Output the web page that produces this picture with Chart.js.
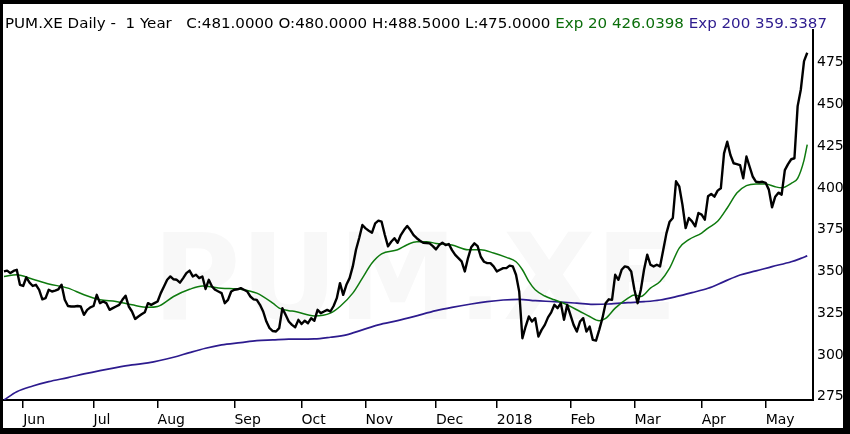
<!DOCTYPE html>
<html>
<head>
<meta charset="utf-8">
<script src="https://cdn.jsdelivr.net/npm/chart.js@4.4.1/dist/chart.umd.min.js"></script>
<style>
  html, body { margin: 0; padding: 0; background: #000; overflow: hidden; }
  #moldura { position: absolute; left: 3px; top: 4px; width: 840px; height: 424px; background: #fff; }
</style>
</head>
<body>
<div id="moldura"><canvas id="grafico"></canvas></div>
<script>
// Fechamentos diarios (indice = pregao)
var fechamentos = [
  350, 350.5, 349, 350.3, 351, 342, 341.3, 346.5, 343.3, 341.3,
  342, 339, 333.3, 334, 339, 338, 338.5, 339.3, 342, 333,
  329.3, 329, 329, 329.3, 329, 324, 327, 328.5, 329.3, 336,
  331, 332, 331, 327, 328, 329, 330, 333, 335.5, 329,
  326, 321.5, 323, 324.3, 325.5, 331, 330, 331, 332, 337,
  341, 345, 347, 345.3, 345, 343.3, 346, 349, 350.5, 347,
  348, 346, 347, 339.5, 345, 341, 339, 338, 337, 331,
  333, 338, 339, 339.3, 340, 339, 338, 335, 333.3, 333,
  330, 326, 320, 316, 314.3, 314, 316, 328, 324, 320,
  318, 316.6, 321, 318.5, 320.5, 319, 322, 320.5, 327, 325,
  326, 327, 326, 329.3, 334, 343, 336, 342, 346, 353,
  363, 370, 377.8, 375.8, 374.4, 373.2, 378.8, 380.4, 379.8, 372,
  365, 367.8, 369.9, 367.2, 371.8, 374.8, 377.2, 374.8, 371.8, 369.9,
  368.4, 367.2, 367, 366.8, 365.2, 363.2, 365.8, 367.2, 365.8, 366.4,
  362.8, 359.9, 358, 356, 350, 358, 364.5, 366.8, 365.2, 358.8,
  355.8, 355, 355, 353, 350, 351, 352, 352, 353.5, 353,
  348, 338, 310, 317, 323, 320, 322, 311, 315, 318,
  322.5, 325.5, 330, 328, 331, 321, 330, 324, 318, 314,
  320, 322, 314, 317, 309, 308.6, 315, 322, 331, 333.3,
  333, 348, 345, 351, 353, 352.5, 350, 339, 331, 339,
  351, 360, 354, 353, 354, 353, 362.8, 372.8, 379.8, 382,
  404, 401, 390, 376, 382, 380, 377, 385, 384, 381,
  395, 396.4, 394.8, 398.4, 399.8, 420.7, 427.7, 419.7, 414.8, 414.3,
  413.7, 405.8, 418.8, 412.7, 406.7, 403.7, 403.4, 403.7, 403.1, 399,
  388.4, 394.8, 397.2, 396, 410.7, 414.3, 417.2, 417.8, 449, 459,
  476, 481
]

// Media exponencial 20
var exp20Dias = [0, 4, 9, 14, 20, 25, 30, 35, 40, 45, 48, 53, 58, 62, 68, 74, 79, 84, 86, 89,
  91, 97, 102, 105, 109, 112, 115, 118, 123, 126, 129, 132, 135, 140, 145, 149, 153, 157, 160, 162,
  164, 166, 169, 172, 176, 180, 183, 186, 188, 191, 195, 197, 199, 202, 205, 208, 211, 214, 218, 220,
  223, 226, 229, 232, 235, 238, 241, 243, 246, 248, 250, 251]
var exp20Valores = [347, 348, 345.3, 342.5, 340, 336, 333, 332, 330, 328.5, 329, 335, 339.3, 341.3, 340, 339.3, 337, 331, 328, 326.5,
  326, 323.3, 325, 329, 337, 346, 355, 360.5, 363, 366, 367.8, 367.8, 366.8, 365.8, 363, 363, 361, 358.4, 355.8, 351,
  344, 339, 335.3, 333, 330, 326, 323, 320.5, 321.9, 328, 334, 335.9, 335, 340, 344, 352, 364, 369, 373, 376,
  380, 388, 397, 401.4, 402.4, 402.4, 400.7, 400.1, 402.8, 405.8, 416.7, 426]

// Media exponencial 200
var exp200Dias = [0, 4, 9, 14, 20, 25, 30, 35, 40, 45, 53, 58, 63, 68, 74, 79, 84, 89, 97, 102,
  107, 112, 117, 123, 128, 135, 140, 146, 151, 156, 161, 166, 172, 179, 184, 189, 195, 200, 205, 210,
  215, 220, 225, 230, 235, 240, 246, 249, 251]
var exp200Valores = [273, 278, 281.4, 284, 286.4, 288.6, 290.6, 292.4, 294, 295.2, 298.6, 301.4, 304, 306, 307.4, 308.6, 309, 309.4, 309.6, 310.6,
  312, 315, 318, 320.5, 322.9, 326.5, 328.5, 330.5, 331.9, 332.9, 333.3, 332.5, 331.9, 331, 330.3, 330.5, 331.3, 331.9, 332.9, 334.9,
  337.3, 339.9, 343.9, 347.9, 350.3, 352.9, 355.8, 357.8, 359.3]

// Rotulos do eixo X (primeiro pregao de cada mes)
var mesesDias = [6, 28, 48, 72, 93, 113, 135, 154, 177, 197, 218, 238]
var mesesRotulos = ['Jun', 'Jul', 'Aug', 'Sep', 'Oct', 'Nov', 'Dec', '2018', 'Feb', 'Mar', 'Apr', 'May']

var cabecalho = [
  { texto: 'PUM.XE Daily -  1 Year   C:481.0000 O:480.0000 H:488.5000 L:475.0000 ', cor: '#000000' },
  { texto: 'Exp 20 426.0398 ', cor: '#0b6e0b' },
  { texto: 'Exp 200 359.3387', cor: '#2d1b8e' }
]

var fonte = 'DejaVu Sans'

function pares(dias, valores) {
  return dias.map(function (d, i) { return { x: d, y: valores[i] } })
}

//Desenha o cabecalho e a marca d'agua
const pluginTextos = {
  id: 'textos',
  beforeDatasetsDraw(chart) {
    const ctx = chart.ctx
    ctx.save()
    ctx.font = 'bold 120px ' + fonte
    ctx.fillStyle = '#f8f8f8'
    ctx.textAlign = 'center'
    ctx.textBaseline = 'middle'
    ctx.fillText('PUM.XE', 412, 284, 560)
    ctx.restore()
  },
  afterDraw(chart) {
    const ctx = chart.ctx
    ctx.save()
    ctx.font = '14px ' + fonte
    ctx.textBaseline = 'alphabetic'
    let total = 0
    cabecalho.forEach(function (p) { total += ctx.measureText(p.texto).width })
    const escala = 822 / total
    ctx.translate(2, 24)
    ctx.scale(escala, 1)
    let x = 0
    cabecalho.forEach(function (p) {
      ctx.fillStyle = p.cor
      ctx.fillText(p.texto, x, 0)
      x += ctx.measureText(p.texto).width
    })
    ctx.restore()
  }
}

const ctx = document.getElementById('grafico')

let grafico = new Chart(ctx, {
  type: 'line',
  data: {
    datasets: [{
      label: 'Close',
      data: fechamentos.map(function (v, i) { return { x: i, y: v } }),
      borderColor: '#000000',
      borderWidth: 2.4,
      tension: 0,
      borderJoinStyle: 'round'
    }, {
      label: 'Exp 20',
      data: pares(exp20Dias, exp20Valores),
      borderColor: '#0e7a0e',
      borderWidth: 1.5,
      cubicInterpolationMode: 'monotone'
    }, {
      label: 'Exp 200',
      data: pares(exp200Dias, exp200Valores),
      borderColor: '#2d1b8e',
      borderWidth: 1.7,
      cubicInterpolationMode: 'monotone'
    }]
  },
  options: {
    responsive: true,
    maintainAspectRatio: false,
    animation: false,
    layout: { padding: { top: 26, left: 0, right: 0, bottom: 0 } },
    plugins: { legend: { display: false }, tooltip: { enabled: false } },
    elements: { point: { radius: 0 } },
    scales: {
      x: {
        type: 'linear',
        min: -0.3,
        max: 252.8,
        grid: { drawOnChartArea: false, drawTicks: true, tickLength: 8, color: '#000', lineWidth: 1.5 },
        border: { display: true, color: '#000', width: 2 },
        afterBuildTicks: function (s) { s.ticks = mesesDias.map(function (d) { return { value: d } }) },
        ticks: {
          autoSkip: false,
          maxRotation: 0,
          align: 'start',
          padding: 4,
          color: '#000',
          font: { family: fonte, size: 14 },
          callback: function (v) { return mesesRotulos[mesesDias.indexOf(v)] }
        },
        afterFit: function (s) { s.height = 28 }
      },
      y: {
        position: 'right',
        min: 273,
        max: 494.6,
        grid: { drawOnChartArea: false, drawTicks: false },
        border: { display: true, color: '#000', width: 2 },
        ticks: {
          stepSize: 25,
          includeBounds: false,
          padding: 4,
          color: '#000',
          font: { family: fonte, size: 14 }
        },
        afterFit: function (s) { s.width = 30 }
      }
    }
  },
  plugins: [pluginTextos]
})
</script>
</body>
</html>
